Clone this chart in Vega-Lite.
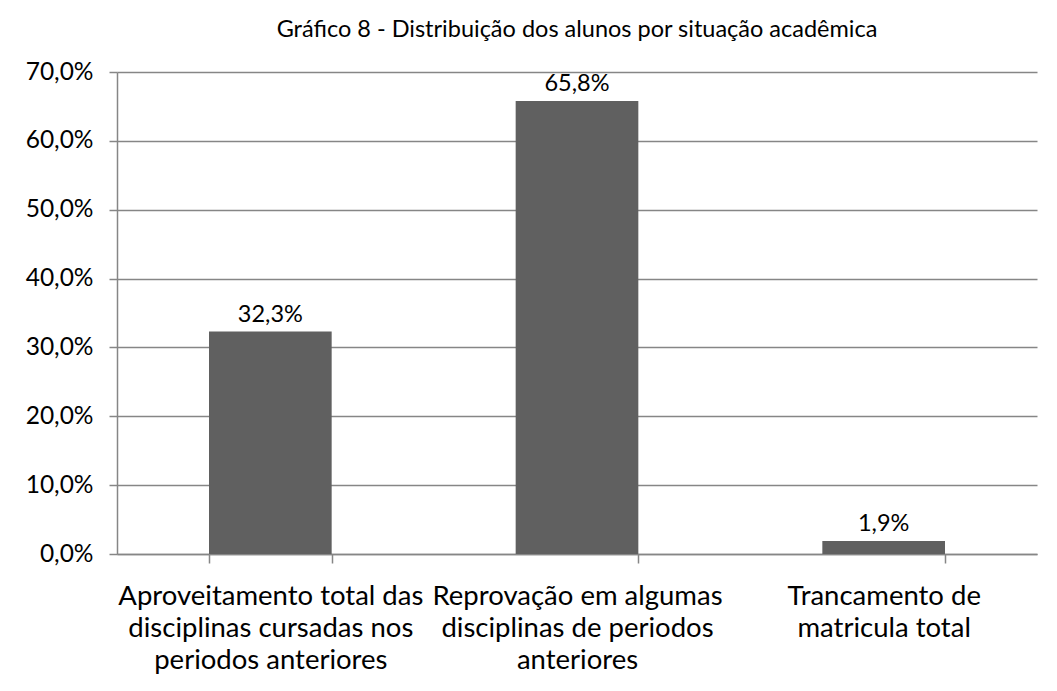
{
  "$schema": "https://vega.github.io/schema/vega-lite/v6.json",
  "autosize": {"type": "none"},
  "width": 920,
  "height": 482,
  "padding": {"left": 117, "top": 72, "right": 20, "bottom": 137},
  "background": "white",
  "config": {
    "locale": {"number": {"decimal": ",", "thousands": ".", "grouping": [3], "currency": ["R$", ""]}},
    "font": "Lato",
    "view": {"stroke": null}
  },
  "title": {
    "text": "Gráfico 8 - Distribuição dos alunos por situação acadêmica",
    "fontSize": 23.5,
    "fontWeight": "normal",
    "color": "#000000",
    "font": "Lato",
    "anchor": "middle",
    "offset": 18,
    "frame": "group"
  },
  "data": {
    "values": [
      {"situacao": "Aproveitamento total das|disciplinas cursadas nos|periodos anteriores", "valor": 0.323},
      {"situacao": "Reprovação em algumas|disciplinas de periodos|anteriores", "valor": 0.658},
      {"situacao": "Trancamento de|matricula total", "valor": 0.019}
    ]
  },
  "encoding": {
    "x": {
      "field": "situacao",
      "type": "nominal",
      "sort": null,
      "scale": {"paddingInner": 0.6, "paddingOuter": 0.3},
      "axis": {
        "title": null,
        "labelAngle": 0,
        "labelExpr": "split(datum.label, '|')",
        "labelFontSize": 27.5,
        "labelLimit": 0,
        "labelColor": "#000000",
        "labelLineHeight": 32,
        "labelPadding": 19,
        "labelBaseline": "top",
        "tickBand": "extent",
        "tickSize": 9,
        "tickColor": "#868686",
        "domainColor": "#868686",
        "domainWidth": 1.5,
        "tickWidth": 1.5,
        "grid": false
      }
    },
    "y": {
      "field": "valor",
      "type": "quantitative",
      "scale": {"domain": [0, 0.7], "nice": false},
      "axis": {
        "title": null,
        "format": ".1%",
        "values": [0, 0.1, 0.2, 0.3, 0.4, 0.5, 0.6, 0.7],
        "labelFontSize": 24.5,
        "labelColor": "#000000",
        "labelPadding": 16,
        "tickSize": 8,
        "tickColor": "#868686",
        "tickWidth": 1.5,
        "domainColor": "#868686",
        "domainWidth": 1.5,
        "gridColor": "#868686",
        "gridWidth": 1.5
      }
    }
  },
  "layer": [
    {"mark": {"type": "bar", "color": "#606060"}},
    {
      "mark": {"type": "text", "fontSize": 23.5, "color": "#000000", "baseline": "bottom", "dy": -5},
      "encoding": {"text": {"field": "valor", "type": "quantitative", "format": ".1%"}}
    }
  ]
}
